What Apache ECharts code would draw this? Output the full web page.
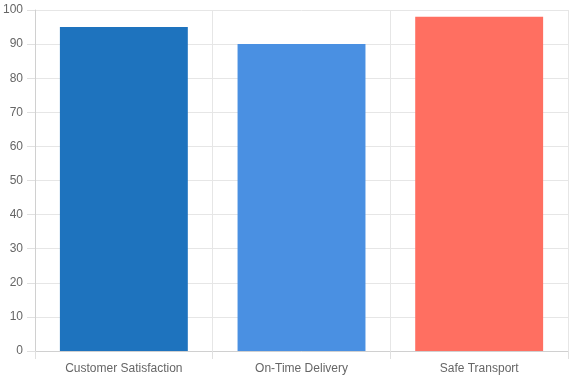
<!DOCTYPE html>
<html><head><meta charset="utf-8">
<script src="https://cdn.jsdelivr.net/npm/echarts@6/dist/echarts.min.js"></script>
<style>html,body{margin:0;padding:0;background:#fff}#c{width:570px;height:380px}</style>
</head><body><div id="c"></div>
<script>
const categories = ["Customer Satisfaction", "On-Time Delivery", "Safe Transport"];
const values = [95, 90, 98];
const colors = ["#1E73BE", "#4A90E2", "#FF6F61"];
const chart = echarts.init(document.getElementById('c'), null, {renderer: 'canvas'});
chart.setOption({
  animation: false,
  grid: {left: 34, right: 2, top: 10, bottom: 29, containLabel: false},
  xAxis: {
    type: 'category', data: categories, boundaryGap: true,
    axisLine: {show: true, lineStyle: {color: '#d0d0d0'}},
    axisTick: {show: true, length: 8, lineStyle: {color: '#e0e0e0'}},
    splitLine: {show: true, lineStyle: {color: '#e6e6e6'}},
    axisLabel: {color: '#666', fontSize: 12, fontFamily: 'Liberation Sans, Arial, sans-serif', margin: 12}
  },
  yAxis: {
    type: 'value', min: 0, max: 100, interval: 10,
    axisLine: {show: true, lineStyle: {color: '#d0d0d0'}},
    axisTick: {show: true, length: 8, lineStyle: {color: '#e0e0e0'}},
    splitLine: {show: true, lineStyle: {color: '#e6e6e6'}},
    axisLabel: {color: '#666', fontSize: 12, fontFamily: 'Liberation Sans, Arial, sans-serif', margin: 12}
  },
  series: [{
    type: 'bar', barWidth: '72%',
    data: values.map((v, i) => ({value: v, itemStyle: {color: colors[i]}}))
  }]
});
</script></body></html>
